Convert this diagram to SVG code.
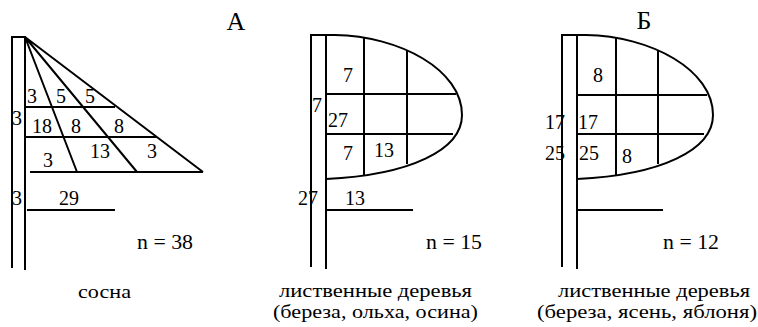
<svg xmlns="http://www.w3.org/2000/svg" width="758" height="327" viewBox="0 0 758 327">
<style>
.ln{stroke:#000;stroke-width:2;fill:none}
text{font-family:'Liberation Serif','Times New Roman',serif;fill:#000}
.d{font-size:20px;text-anchor:middle}
.n{font-size:20px}
.cap{font-size:19px;text-anchor:middle}
.ttl{font-size:26px;text-anchor:middle}
</style>
<g id="pine">
<path class="ln" d="M12,268 V37 H25 V270"/>
<path class="ln" d="M25,37 L77,172 M25,37 L137,172 M25,37 L203,172 M30,172 H203 M25,107 H115 M25,137 H157 M27,210 H115"/>
<g class="d">
<text x="32" y="103">3</text><text x="61" y="103">5</text><text x="90" y="103">5</text>
<text x="17" y="125">3</text>
<text x="42" y="133">18</text><text x="76" y="133">8</text><text x="119" y="133">8</text>
<text x="48" y="167">3</text><text x="100" y="158">13</text><text x="152" y="158">3</text>
<text x="17" y="205">3</text><text x="69" y="205">29</text>
</g>
<text class="n" x="137" y="249" textLength="56" lengthAdjust="spacingAndGlyphs">n = 38</text>
<text class="ttl" x="236" y="30">А</text>
<text class="cap" x="104.5" y="298" textLength="53" lengthAdjust="spacingAndGlyphs">сосна</text>
</g>
<g id="deciduous1">
<path class="ln" d="M311,267 V35 H335 C400,36 462,70 462,115 C462,150 410,175 326,179 M326,35 V269"/>
<path class="ln" d="M326,94 H456 M326,134 H453 M364,38 V175 M407,51 V164 M326,210 H413"/>
<g class="d">
<text x="348" y="82">7</text><text x="317" y="112">7</text><text x="338" y="127">27</text>
<text x="348" y="160">7</text><text x="384" y="157">13</text>
<text x="308" y="205">27</text><text x="355" y="205">13</text>
</g>
<text class="n" x="426" y="249" textLength="56" lengthAdjust="spacingAndGlyphs">n = 15</text>
<text class="cap" x="375.5" y="297" textLength="193" lengthAdjust="spacingAndGlyphs">лиственные деревья</text>
<text class="cap" x="375.5" y="318" textLength="205" lengthAdjust="spacingAndGlyphs">(береза, ольха, осина)</text>
</g>
<g id="deciduous2">
<path class="ln" d="M562,267 V35 H586 C651,36 713,70 713,115 C713,150 661,175 577,179 M577,35 V269"/>
<path class="ln" d="M577,95 H707 M577,134 H704 M616,38 V175 M658,51 V164 M577,210 H663"/>
<g class="d">
<text x="598" y="82">8</text>
<text x="555" y="129">17</text><text x="588" y="129">17</text>
<text x="555" y="160">25</text><text x="589" y="160">25</text><text x="627" y="163">8</text>
</g>
<text class="n" x="663" y="249" textLength="56" lengthAdjust="spacingAndGlyphs">n = 12</text>
<text class="ttl" x="644" y="29">Б</text>
<text class="cap" x="654" y="297" textLength="192" lengthAdjust="spacingAndGlyphs">лиственные деревья</text>
<text class="cap" x="647" y="318" textLength="220" lengthAdjust="spacingAndGlyphs">(береза, ясень, яблоня)</text>
</g>
</svg>
